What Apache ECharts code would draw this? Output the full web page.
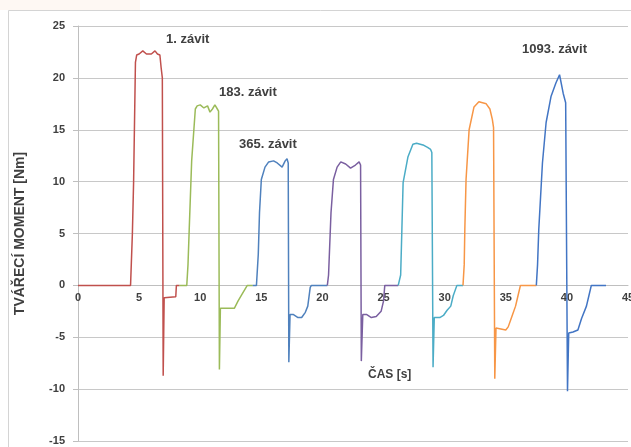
<!DOCTYPE html>
<html><head><meta charset="utf-8">
<script src="https://cdn.jsdelivr.net/npm/echarts@6/dist/echarts.min.js"></script>
<style>html,body{margin:0;padding:0;background:#fff}#c{width:631px;height:447px}</style>
</head><body><div id="c"></div>
<script>
// Time values [s] and torque values [Nm] for each thread
const t1 = [0, 4.3, 4.45, 4.55, 4.7, 4.8, 5.0, 5.3, 5.6, 6.0, 6.3, 6.5, 6.7, 6.8, 6.9, 6.97, 7.05, 8.0, 8.05, 8.3];
const v1 = [0, 0, 5, 10, 21.5, 22.2, 22.3, 22.6, 22.3, 22.3, 22.6, 22.3, 22.2, 21, 20, -8.7, -1.2, -1.1, 0, 0];
const t2 = [8.3, 8.9, 9.0, 9.1, 9.3, 9.6, 9.75, 10.0, 10.3, 10.6, 10.8, 11.0, 11.2, 11.4, 11.5, 11.57, 11.65, 12.8, 13.1, 13.4, 13.85, 14.3];
const v2 = [0, 0, 2, 5.4, 12, 17, 17.3, 17.4, 17.1, 17.3, 16.7, 17.0, 17.4, 17.0, 16.8, -8.1, -2.2, -2.2, -1.5, -0.9, 0, 0];
const t3 = [14.3, 14.6, 14.75, 14.85, 15.0, 15.3, 15.6, 16.0, 16.3, 16.7, 16.95, 17.1, 17.2, 17.25, 17.35, 17.6, 18.0, 18.3, 18.6, 18.8, 19.0, 19.1, 20.4];
const v3 = [0, 0, 3, 7, 10.2, 11.4, 11.9, 12.0, 11.8, 11.4, 12.0, 12.2, 11.8, -7.4, -2.8, -2.8, -3.1, -3.1, -2.6, -2.0, -0.2, 0, 0];
const t4 = [20.4, 20.5, 20.7, 20.9, 21.2, 21.5, 21.9, 22.3, 22.7, 23.0, 23.12, 23.18, 23.3, 23.6, 24.0, 24.4, 24.8, 25.0, 25.1, 26.2];
const v4 = [0, 1, 7, 10.2, 11.4, 11.9, 11.7, 11.3, 11.6, 11.9, 11.6, -7.3, -2.8, -2.8, -3.1, -3.0, -2.5, -1.5, 0, 0];
const t5 = [26.2, 26.4, 26.5, 26.6, 27.0, 27.4, 27.7, 28.0, 28.3, 28.6, 28.85, 28.95, 29.05, 29.15, 29.6, 29.9, 30.2, 30.5, 30.7, 31.0, 31.5];
const v5 = [0, 1, 5.4, 9.9, 12.4, 13.6, 13.7, 13.6, 13.5, 13.3, 13.1, 12.8, -7.9, -3.1, -3.1, -2.9, -2.4, -2.0, -1.0, 0, 0];
const t6 = [31.5, 31.6, 31.65, 31.75, 32.0, 32.4, 32.8, 33.1, 33.4, 33.7, 33.9, 34.0, 34.1, 34.2, 34.6, 35.0, 35.2, 35.5, 35.8, 36.0, 36.2, 37.5];
const v6 = [0, 2, 5.4, 10.2, 15, 17.2, 17.7, 17.6, 17.5, 17.0, 16.0, 15.2, -9.0, -4.1, -4.2, -4.3, -4.0, -3.0, -2.0, -1.0, 0, 0];
const t7 = [37.5, 37.6, 37.7, 38.0, 38.3, 38.7, 39.1, 39.4, 39.5, 39.7, 39.9, 40.05, 40.15, 40.5, 40.9, 41.2, 41.6, 41.8, 42.0, 43.2];
const v7 = [0, 2, 5.4, 11.8, 15.7, 18.2, 19.5, 20.3, 20.4, 18.5, 17.6, -10.2, -4.6, -4.5, -4.3, -3.2, -2.0, -1.0, 0, 0];
const xTicks = [0, 5, 10, 15, 20, 25, 30, 35, 40, 45];
const yTicks = [-15, -10, -5, 0, 5, 10, 15, 20, 25];
const labels = ['1. závit', '183. závit', '365. závit', '1093. závit'];

const zip = (t, v) => t.map((x, i) => [x, v[i]]);
const colors = ['#c0504d', '#9bbb59', '#4f81bd', '#7a5fa0', '#4bacc6', '#f79646', '#4275c4'];
const sets = [[t1, v1], [t2, v2], [t3, v3], [t4, v4], [t5, v5], [t6, v6], [t7, v7]];
const txt = '#404040';
const gridTop = 26, gridBottom = 6, H = 447;
const plotH = H - gridTop - gridBottom;
const yMin = yTicks[0], yMax = yTicks[yTicks.length - 1];
const zeroOffset = -plotH * (0 - yMin) / (yMax - yMin);
const chart = echarts.init(document.getElementById('c'));
chart.setOption({
  animation: false,
  backgroundColor: '#fff',
  grid: { left: 78, right: 3, top: gridTop, bottom: gridBottom, containLabel: false, outerBoundsMode: 'none' },
  xAxis: {
    type: 'value', min: xTicks[0], max: xTicks[xTicks.length - 1], interval: 5,
    position: 'bottom', offset: zeroOffset,
    axisLine: { onZero: false, lineStyle: { color: '#bfbfbf' } },
    axisTick: { show: false },
    splitLine: { show: false },
    axisLabel: { color: txt, fontFamily: 'Liberation Sans', fontWeight: 'bold', fontSize: 11, margin: 7, showMaxLabel: true }
  },
  yAxis: {
    type: 'value', min: yMin, max: yMax, interval: 5,
    name: 'TVÁŘECÍ MOMENT [Nm]', nameLocation: 'middle', nameGap: 51, nameRotate: 90,
    nameTextStyle: { color: txt, fontFamily: 'Liberation Sans', fontWeight: 'bold', fontSize: 14 },
    axisLine: { show: true, lineStyle: { color: '#bfbfbf' } },
    axisTick: { show: true, length: 5, lineStyle: { color: '#bfbfbf' } },
    splitLine: { lineStyle: { color: '#c8c8c8' } },
    axisLabel: { color: txt, fontFamily: 'Liberation Sans', fontWeight: 'bold', fontSize: 11, margin: 13 }
  },
  series: sets.map((s, i) => ({
    type: 'line', data: zip(s[0], s[1]), showSymbol: false, symbol: 'none',
    lineStyle: { color: colors[i], width: 1.5 }, itemStyle: { color: colors[i] }
  })),
  graphic: [
    { type: 'rect', silent: true, z: -10, shape: { x: 0, y: 0, width: 140, height: 10 }, style: { fill: '#fef8f3' } },
    { type: 'rect', silent: true, z: -5, shape: { x: 8.5, y: 10.5, width: 640, height: 460 }, style: { fill: 'none', stroke: '#d4d4d4', lineWidth: 1 } },
    { type: 'text', left: 166, top: 33, style: { text: labels[0], fill: txt, font: 'bold 13px "Liberation Sans"' } },
    { type: 'text', left: 219, top: 86, style: { text: labels[1], fill: txt, font: 'bold 13px "Liberation Sans"' } },
    { type: 'text', left: 239, top: 138, style: { text: labels[2], fill: txt, font: 'bold 13px "Liberation Sans"' } },
    { type: 'text', left: 522, top: 43, style: { text: labels[3], fill: txt, font: 'bold 13px "Liberation Sans"' } },
    { type: 'text', left: 368, top: 369, style: { text: 'ČAS [s]', fill: txt, font: 'bold 12px "Liberation Sans"' } }
  ]
});
</script></body></html>
